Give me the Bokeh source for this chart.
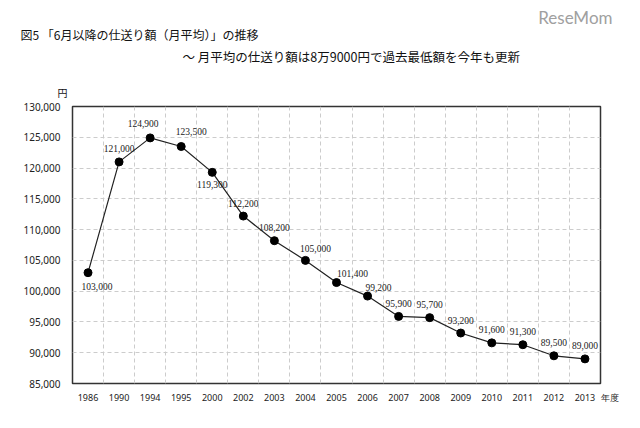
from bokeh.plotting import figure
from bokeh.models import Title, FixedTicker, NumeralTickFormatter, ColumnDataSource, LabelSet, Range1d
from bokeh.embed import file_html
from bokeh.resources import INLINE

years = ["1986", "1990", "1994", "1995", "2000", "2002", "2003", "2004", "2005",
         "2006", "2007", "2008", "2009", "2010", "2011", "2012", "2013"]
amounts = [103000, 121000, 124900, 123500, 119300, 112200, 108200, 105000, 101400,
           99200, 95900, 95700, 93200, 91600, 91300, 89500, 89000]
y_ticks = [85000, 90000, 95000, 100000, 105000, 110000, 115000, 120000, 125000, 130000]

NUM_FONT = "Noto Sans"
JP_FONT = "Noto Sans CJK JP"

# label nudges (screen px), default is centred 13px above the dot
nudge = {0: (9, -14), 2: (-7, 14), 3: (10, 15), 4: (0, -12), 7: (10, 12), 8: (16, 9), 9: (11, 9)}

xs = list(range(len(years)))
dx = [nudge.get(i, (0, 13))[0] for i in xs]
dy = [nudge.get(i, (0, 13))[1] for i in xs]
src = ColumnDataSource(dict(x=xs, y=amounts, dx=dx, dy=dy,
                            txt=[f"{v:,}" for v in amounts]))

p = figure(width=624, height=412, output_backend="svg", toolbar_location=None,
           x_range=Range1d(-0.5, len(years) - 0.5), y_range=Range1d(y_ticks[0], y_ticks[-1]),
           min_border_left=72, min_border_right=24, min_border_top=106, min_border_bottom=29)

p.line("x", "y", source=src, line_color="#222222", line_width=1.2)
p.scatter("x", "y", source=src, size=8, fill_color="black", line_color="black")

labels = LabelSet(x="x", y="y", text="txt", source=src, x_offset="dx", y_offset="dy",
                  text_align="center", text_baseline="middle", text_font=NUM_FONT,
                  text_font_size="9.5px", text_color="#222222")
p.add_layout(labels)

# extra tick at the right edge carries the unit 年度
p.xaxis.ticker = FixedTicker(ticks=xs + [len(years) - 0.5])
overrides = {i: y for i, y in enumerate(years)}
overrides[len(years) - 0.5] = "\u3000\u3000年度"
p.xaxis.major_label_overrides = overrides
p.yaxis.ticker = FixedTicker(ticks=y_ticks)
p.yaxis.formatter = NumeralTickFormatter(format="0,0")
for ax in (p.xaxis, p.yaxis):
    ax.axis_line_color = None
    ax.major_tick_line_color = None
    ax.minor_tick_line_color = None
    ax.major_label_text_font = NUM_FONT
    ax.major_label_text_color = "#222222"
p.xaxis.major_label_text_font_size = "9px"
p.yaxis.major_label_text_font_size = "10px"
p.xaxis.major_label_standoff = 1
p.yaxis.major_label_standoff = 6

p.xgrid.ticker = FixedTicker(ticks=[i + 0.5 for i in xs[:-1]])
p.ygrid.ticker = FixedTicker(ticks=y_ticks[1:-1])
for g in (p.xgrid, p.ygrid):
    g.grid_line_color = "#cccccc"
    g.grid_line_dash = "4 3"
    g.grid_line_width = 1

p.outline_line_color = "#333333"
p.outline_line_width = 1.5
p.background_fill_color = "white"
p.border_fill_color = "white"

# header rows, first added sits nearest the frame
def head(text, size, offset, standoff, align="left", font=JP_FONT, color="#111111", style="normal"):
    p.add_layout(Title(text=text, align=align, offset=offset, standoff=standoff,
                       text_font=font, text_font_size=size, text_color=color,
                       text_font_style=style), "above")

head("円", "10px", -15, 14)
head("～  月平均の仕送り額は8万9000円で過去最低額を今年も更新", "12.5px", 110, 19)
head("図5 「6月以降の仕送り額（月平均）」の推移", "12px", -52, -14)
head("ReseMom", "17px", -12, 6, align="right", font="Lato", color="#a0a0a0")

open("out.html", "w").write(file_html(p, INLINE))
